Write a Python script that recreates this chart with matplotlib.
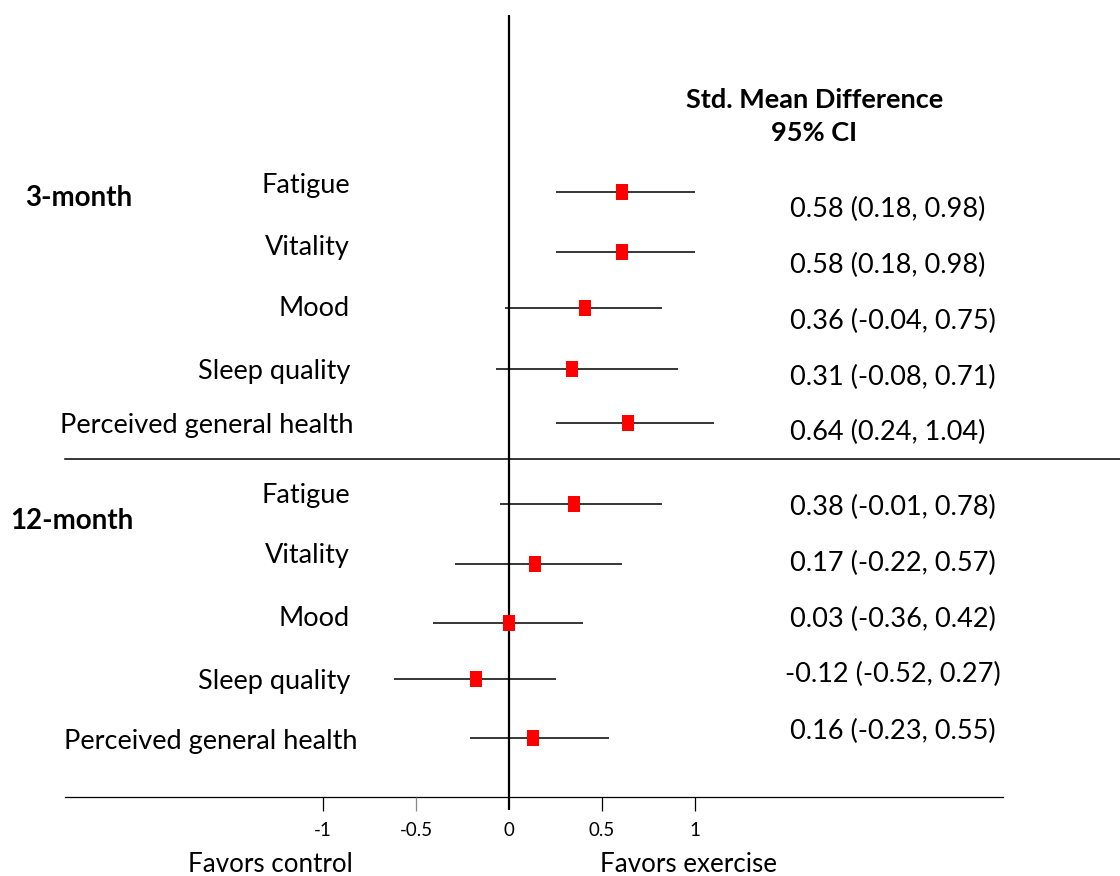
import matplotlib.pyplot as plt
import numpy as np

plt.rcParams['font.family'] = ['Lato', 'DejaVu Sans']

W, H = 1120, 876

# outcomes per follow-up (top to bottom)
groups = ["3-month", "12-month"]
outcomes = ["Fatigue", "Vitality", "Mood", "Sleep quality", "Perceived general health"]

# effect positions as drawn in the figure (std. mean difference)
est = [0.61, 0.61, 0.41, 0.34, 0.64,
       0.35, 0.14, 0.00, -0.18, 0.13]
lo = [0.25, 0.25, -0.02, -0.07, 0.25,
      -0.05, -0.29, -0.41, -0.62, -0.21]
hi = [1.00, 1.00, 0.82, 0.91, 1.10,
      0.82, 0.61, 0.40, 0.25, 0.54]

# printed estimates
ci_text = ["0.58 (0.18, 0.98)", "0.58 (0.18, 0.98)", "0.36 (-0.04, 0.75)",
           "0.31 (-0.08, 0.71)", "0.64 (0.24, 1.04)",
           "0.38 (-0.01, 0.78)", "0.17 (-0.22, 0.57)", "0.03 (-0.36, 0.42)",
           "-0.12 (-0.52, 0.27)", "0.16 (-0.23, 0.55)"]

xticks = [-1, -0.5, 0, 0.5, 1]
xtick_labels = ["-1", "-0.5", "0", "0.5", "1"]

# layout (pixel rows)
row_y = [192, 252, 308, 369, 423, 504, 564, 623, 679, 738]
label_y = [185, 247, 309, 371, 425, 495, 556, 618, 681, 742]
label_x = [350, 350, 350, 350, 354, 350, 350, 350, 350, 358]
value_y = [209, 265, 321, 377, 432, 507, 563, 619, 674, 731]
value_x = [790, 790, 790, 790, 790, 790, 790, 790, 785, 790]
group_pos = [(25, 198), (10, 521)]

x0_px, unit_px = 509, 186

fig = plt.figure(figsize=(W / 100, H / 100), dpi=100)
ax = fig.add_axes([0, 0, 1, 1])
ax.set_xlim(-x0_px / unit_px, (W - x0_px) / unit_px)
ax.set_ylim(H, 0)
ax.axis('off')


def fx(px):
    return px / W


def fy(py):
    return 1 - py / H


# CI lines and markers
ax.hlines(row_y, lo, hi, color='black', lw=1.1, zorder=2)
rect = [(-0.75, -1), (0.75, -1), (0.75, 1), (-0.75, 1)]
ax.plot(est, row_y, ls='none', marker=rect, ms=11.5, color='#ff0000',
        markeredgewidth=0, zorder=3)

# zero line
ax.vlines(0, 15, 810, color='black', lw=1.6, zorder=2)

# axis and ticks
ax.plot([fx(65), fx(1003)], [fy(797), fy(797)], color='black', lw=0.9,
        transform=fig.transFigure)
for t in xticks:
    if t != 0:
        ax.vlines(t, 797, 811, color='black' if t != -0.5 else '#888888', lw=0.9)
for t, lab in zip(xticks, xtick_labels):
    ax.text(t, 830, lab, ha='center', va='center', fontsize=13.5)

# group separator
ax.plot([fx(65), fx(1120)], [fy(459), fy(459)], color='black', lw=1.1,
        transform=fig.transFigure)

# labels
labels = outcomes * len(groups)
for i, lab in enumerate(labels):
    fig.text(fx(label_x[i]), fy(label_y[i]), lab, ha='right', va='center', fontsize=19.5)
    fig.text(fx(value_x[i]), fy(value_y[i]), ci_text[i], ha='left', va='center', fontsize=19.5)
for g, (gx, gy) in zip(groups, group_pos):
    fig.text(fx(gx), fy(gy), g, ha='left', va='center', fontsize=20, fontweight='bold')

fig.text(fx(815), fy(100), "Std. Mean Difference", ha='center', va='center',
         fontsize=19.5, fontweight='bold')
fig.text(fx(814), fy(133), "95% CI", ha='center', va='center',
         fontsize=19.5, fontweight='bold')

fig.text(fx(270), fy(864), "Favors control", ha='center', va='center', fontsize=18.7)
fig.text(fx(689), fy(864), "Favors exercise", ha='center', va='center', fontsize=18.7)

fig.savefig('out.png', dpi=100)
